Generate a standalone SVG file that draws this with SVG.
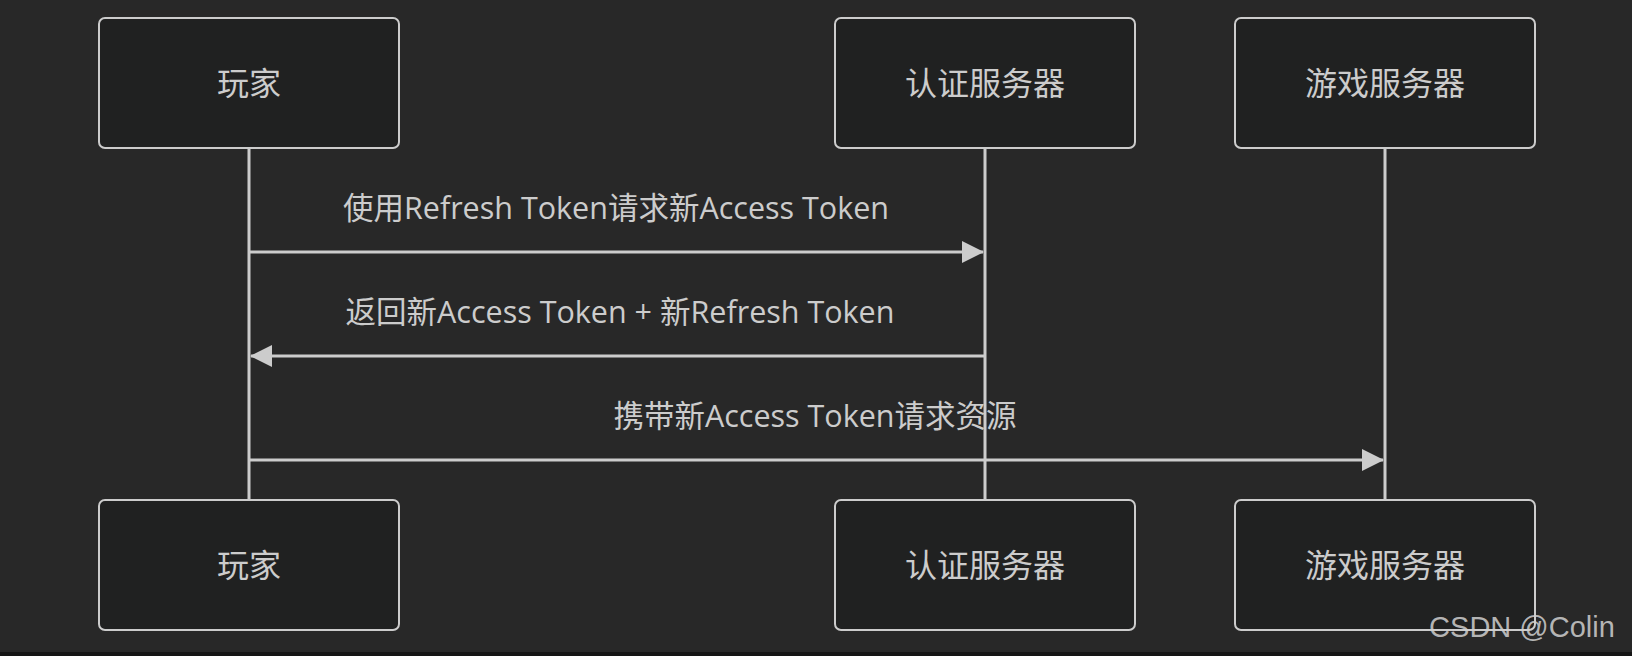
<svg xmlns="http://www.w3.org/2000/svg" width="1632" height="656" viewBox="0 0 1632 656">
<style>
.box{fill:#202121;stroke:#cccccc;stroke-width:2}
.lbl{fill:#cccccc;font-family:"Open Sans","Noto Sans CJK SC",sans-serif;font-size:32px;text-anchor:middle}
.life{stroke:#cccccc;stroke-width:3}
.msg{stroke:#cccccc;stroke-width:3;fill:none}
.mtxt{fill:#cccccc;font-family:"Open Sans","Noto Sans CJK SC",sans-serif;font-size:30.5px;text-anchor:middle}
</style>
<defs>
<marker id="arr" markerWidth="22" markerHeight="22" viewBox="0 0 22 22" refX="21" refY="11" orient="auto" markerUnits="userSpaceOnUse">
<path d="M0,0 L22,11 L0,22 Z" fill="#cccccc"/>
</marker>
</defs>
<rect x="0" y="0" width="1632" height="656" fill="#282828"/>
<rect x="0" y="652" width="1632" height="4" fill="#151515"/>
<g id="lifelines">
<line class="life" x1="249" y1="148" x2="249" y2="500"/>
<line class="life" x1="985" y1="148" x2="985" y2="500"/>
<line class="life" x1="1385" y1="148" x2="1385" y2="500"/>
</g>
<g id="player-top"><rect class="box" x="99" y="18" width="300" height="130" rx="6"/><text class="lbl" x="249" y="95">玩家</text></g>
<g id="auth-top"><rect class="box" x="835" y="18" width="300" height="130" rx="6"/><text class="lbl" x="985" y="95">认证服务器</text></g>
<g id="game-top"><rect class="box" x="1235" y="18" width="300" height="130" rx="6"/><text class="lbl" x="1385" y="95">游戏服务器</text></g>
<g id="player-bottom"><rect class="box" x="99" y="500" width="300" height="130" rx="6"/><text class="lbl" x="249" y="577">玩家</text></g>
<g id="auth-bottom"><rect class="box" x="835" y="500" width="300" height="130" rx="6"/><text class="lbl" x="985" y="577">认证服务器</text></g>
<g id="game-bottom"><rect class="box" x="1235" y="500" width="300" height="130" rx="6"/><text class="lbl" x="1385" y="577">游戏服务器</text></g>
<g id="connectors">
<line class="msg" x1="250" y1="252" x2="983" y2="252" marker-end="url(#arr)"/>
<text class="mtxt" x="616" y="219">使用Refresh Token请求新Access Token</text>
<line class="msg" x1="984" y1="356" x2="251" y2="356" marker-end="url(#arr)"/>
<text class="mtxt" x="620" y="323">返回新Access Token + 新Refresh Token</text>
<line class="msg" x1="250" y1="460" x2="1383" y2="460" marker-end="url(#arr)"/>
<text class="mtxt" x="815" y="427">携带新Access Token请求资源</text>
</g>
<text x="1522" y="637" fill="#d0d0d0" fill-opacity="0.85" font-family="'Liberation Sans',Arial,sans-serif" font-size="29" text-anchor="middle">CSDN @Colin</text>
</svg>
